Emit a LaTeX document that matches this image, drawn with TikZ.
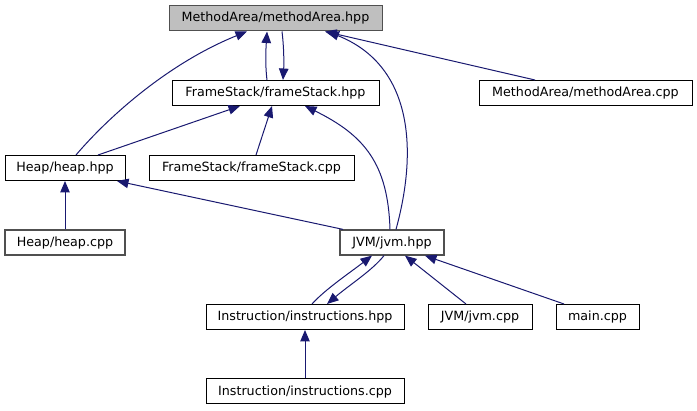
\documentclass[tikz,border=0pt]{standalone}
\usepackage{fontspec}
\setmainfont{DejaVu Sans}
\usetikzlibrary{arrows.meta}
\definecolor{edgeblue}{HTML}{191970}
\definecolor{mainfill}{HTML}{BFBFBF}
\definecolor{darkframe}{HTML}{505050}
\begin{document}
\begin{tikzpicture}[x=1pt,y=-1pt,
  filebox/.style={draw=black,line width=1pt,fill=white,minimum height=25pt,inner sep=0pt,
    font=\fontsize{12.7}{15}\selectfont,text=black},
  mainbox/.style={filebox,fill=mainfill,draw=darkframe},
  graybox/.style={filebox,draw=darkframe,line width=1.25pt},
  edge/.style={draw=edgeblue,line width=1pt,-{Triangle[length=11.5pt,width=9.5pt]}}]
\useasboundingbox (0,0) rectangle (697,411);
\node[mainbox,minimum width=213pt] (mahpp) at (275.5,18.5) {MethodArea/methodArea.hpp};
\node[filebox,minimum width=207pt] (fshpp) at (275.5,93) {FrameStack/frameStack.hpp};
\node[filebox,minimum width=213pt] (macpp) at (585.5,93) {MethodArea/methodArea.cpp};
\node[filebox,minimum width=120pt] (heaphpp) at (65,168) {Heap/heap.hpp};
\node[filebox,minimum width=205pt] (fscpp) at (251.5,168) {FrameStack/frameStack.cpp};
\node[graybox,minimum width=120pt] (heapcpp) at (65,242.5) {Heap/heap.cpp};
\node[graybox,minimum width=104pt] (jvmhpp) at (392,242.5) {JVM/jvm.hpp};
\node[filebox,minimum width=198pt] (insthpp) at (305,317) {Instruction/instructions.hpp};
\node[filebox,minimum width=104pt] (jvmcpp) at (480,317) {JVM/jvm.cpp};
\node[filebox,minimum width=83pt] (maincpp) at (597.5,317) {main.cpp};
\node[filebox,minimum width=198pt] (instcpp) at (305,391.5) {Instruction/instructions.cpp};
% edges
\draw[edge] ([xshift=11pt]heaphpp.north) .. controls +(34,-40) and +(-77,31) .. ([xshift=-28.5pt]mahpp.south);
\draw[edge] ([xshift=33pt]heaphpp.north) -- ([xshift=-35.5pt]fshpp.south);
\draw[edge] ([xshift=-8.5pt]fshpp.north) .. controls +(-2,-16) and +(-1,16) .. ([xshift=-8.5pt]mahpp.south);
\draw[edge] ([xshift=6.5pt]mahpp.south) .. controls +(2,16) and +(1,-16) .. ([xshift=7.5pt]fshpp.north);
\draw[edge] ([xshift=4pt]jvmhpp.north) .. controls +(22,-80) and +(85,34) .. ([xshift=52pt]mahpp.south);
\draw[edge] ([xshift=-50.5pt]macpp.north) -- ([xshift=49.5pt]mahpp.south);
\draw[edge] ([xshift=4.5pt]fscpp.north) -- ([xshift=-3.5pt]fshpp.south);
\draw[edge] ([xshift=-2pt]jvmhpp.north) .. controls +(-2,-65) and +(60,29.5) .. ([xshift=29.5pt]fshpp.south);
\draw[edge] ([xshift=-49pt]jvmhpp.north) -- ([xshift=52pt]heaphpp.south);
\draw[edge] (heapcpp.north) -- (heaphpp.south);
\draw[edge] ([xshift=7pt]insthpp.north) .. controls +(13,-14.5) and +(-22,17) .. ([xshift=-20pt]jvmhpp.south);
\draw[edge] ([xshift=-8pt]jvmhpp.south) .. controls +(-12,15) and +(23,-19.5) .. ([xshift=22pt]insthpp.north);
\draw[edge] ([xshift=-14pt]jvmcpp.north) -- ([xshift=13pt]jvmhpp.south);
\draw[edge] ([xshift=-33.5pt]maincpp.north) -- ([xshift=33pt]jvmhpp.south);
\draw[edge] (instcpp.north) -- (insthpp.south);
\end{tikzpicture}
\end{document}
